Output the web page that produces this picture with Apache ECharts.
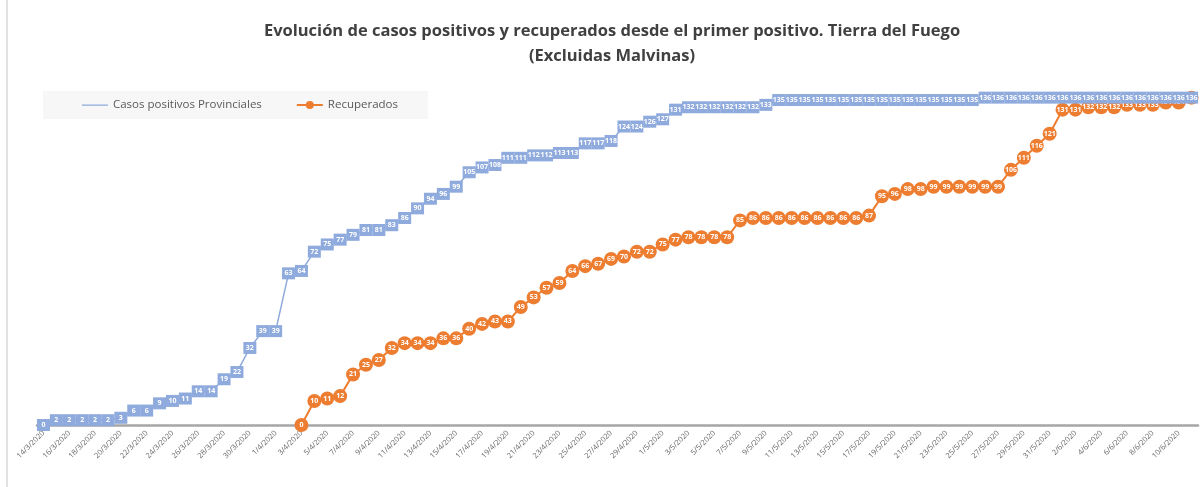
<!DOCTYPE html>
<html>
<head>
<meta charset="utf-8">
<script src="https://cdn.jsdelivr.net/npm/echarts@6/dist/echarts.min.js"></script>
<style>
html,body{margin:0;padding:0;background:#fff;}
#chart{width:1201px;height:487px;}
</style>
</head>
<body>
<div id="chart"></div>
<script>
const titleText = "Evolución de casos positivos y recuperados desde el primer positivo. Tierra del Fuego\n(Excluidas Malvinas)";
const seriesNames = ["Casos positivos Provinciales", "Recuperados"];

const dates = [
  "14/3/2020","15/3/2020","16/3/2020","17/3/2020","18/3/2020","19/3/2020","20/3/2020","21/3/2020","22/3/2020","23/3/2020",
  "24/3/2020","25/3/2020","26/3/2020","27/3/2020","28/3/2020","29/3/2020","30/3/2020","31/3/2020",
  "1/4/2020","2/4/2020","3/4/2020","4/4/2020","5/4/2020","6/4/2020","7/4/2020","8/4/2020","9/4/2020","10/4/2020",
  "11/4/2020","12/4/2020","13/4/2020","14/4/2020","15/4/2020","16/4/2020","17/4/2020","18/4/2020","19/4/2020","20/4/2020",
  "21/4/2020","22/4/2020","23/4/2020","24/4/2020","25/4/2020","26/4/2020","27/4/2020","28/4/2020","29/4/2020","30/4/2020",
  "1/5/2020","2/5/2020","3/5/2020","4/5/2020","5/5/2020","6/5/2020","7/5/2020","8/5/2020","9/5/2020","10/5/2020",
  "11/5/2020","12/5/2020","13/5/2020","14/5/2020","15/5/2020","16/5/2020","17/5/2020","18/5/2020","19/5/2020","20/5/2020",
  "21/5/2020","22/5/2020","23/5/2020","24/5/2020","25/5/2020","26/5/2020","27/5/2020","28/5/2020","29/5/2020","30/5/2020",
  "31/5/2020","1/6/2020","2/6/2020","3/6/2020","4/6/2020","5/6/2020","6/6/2020","7/6/2020","8/6/2020","9/6/2020",
  "10/6/2020","11/6/2020"
];

const casosPositivos = [
  0,2,2,2,2,2,3,6,6,9,
  10,11,14,14,19,22,32,39,
  39,63,64,72,75,77,79,81,81,83,
  86,90,94,96,99,105,107,108,111,111,
  112,112,113,113,117,117,118,124,124,126,
  127,131,132,132,132,132,132,132,133,135,
  135,135,135,135,135,135,135,135,135,135,
  135,135,135,135,135,136,136,136,136,136,
  136,136,136,136,136,136,136,136,136,136,
  136,136
];

const recuperados = [
  null,null,null,null,null,null,null,null,null,null,
  null,null,null,null,null,null,null,null,
  null,null,0,10,11,12,21,25,27,32,
  34,34,34,36,36,40,42,43,43,49,
  53,57,59,64,66,67,69,70,72,72,
  75,77,78,78,78,78,85,86,86,86,
  86,86,86,86,86,86,87,95,96,98,
  98,99,99,99,99,99,99,106,111,116,
  121,131,131,132,132,132,133,133,133,134,
  134,136
];

const chart = echarts.init(document.getElementById('chart'), null, {renderer: 'canvas'});
const font = '"Open Sans", "Noto Sans", sans-serif';

chart.setOption({
  animation: false,
  backgroundColor: '#ffffff',
  textStyle: {fontFamily: font},
  title: {
    text: titleText,
    left: 607,
    textAlign: 'center',
    top: 14,
    textStyle: {fontSize: 16.5, fontWeight: 'bold', color: '#404040', lineHeight: 25, fontFamily: font}
  },
  legend: {
    left: 43,
    top: 91,
    backgroundColor: '#f7f7f7',
    padding: [8, 30, 8, 39],
    itemGap: 34,
    itemWidth: 26,
    itemHeight: 10,
    textStyle: {fontSize: 11.5, color: '#595959', fontFamily: font},
    data: [
      {name: seriesNames[0], icon: 'path://M0,4.4h26v1.4H0z M0,0h0.01v0.01H0z M0,10h0.01v0.01H0z'},
      {name: seriesNames[1]}
    ]
  },
  graphic: [{
    type: 'line',
    shape: {x1: 7, y1: 0, x2: 7, y2: 487},
    style: {stroke: '#d9d9d9', lineWidth: 1.5},
    silent: true
  }],
  grid: {left: 37, right: 3, top: 88, bottom: 62, containLabel: false},
  xAxis: {
    type: 'category',
    data: dates,
    boundaryGap: true,
    axisLine: {show: true, lineStyle: {color: '#a6a6a6', width: 2.5}},
    axisTick: {show: false},
    axisLabel: {
      interval: 1,
      rotate: 45,
      fontSize: 7.5,
      color: '#666666',
      margin: 7,
      fontFamily: font
    },
    splitLine: {show: false}
  },
  yAxis: {
    type: 'value',
    min: 0,
    max: 140,
    show: false,
    splitLine: {show: false}
  },
  series: [
    {
      name: seriesNames[0],
      type: 'line',
      data: casosPositivos,
      z: 4,
      symbol: 'rect',
      symbolSize: [13, 12],
      showAllSymbol: true,
      lineStyle: {color: '#8faadc', width: 1.5},
      itemStyle: {color: '#8faadc'},
      label: {
        show: true,
        position: 'inside',
        color: '#ffffff',
        fontSize: 7,
        fontWeight: 'bold',
        fontFamily: font
      },
      labelLayout: {hideOverlap: false}
    },
    {
      name: seriesNames[1],
      type: 'line',
      data: recuperados,
      z: 3,
      symbol: 'circle',
      symbolSize: 14,
      showAllSymbol: true,
      lineStyle: {color: '#ed7d31', width: 2},
      itemStyle: {color: '#ed7d31'},
      label: {
        show: true,
        position: 'inside',
        color: '#ffffff',
        fontSize: 7,
        fontWeight: 'bold',
        fontFamily: font
      },
      labelLayout: {hideOverlap: false}
    }
  ]
});
</script>
</body>
</html>
